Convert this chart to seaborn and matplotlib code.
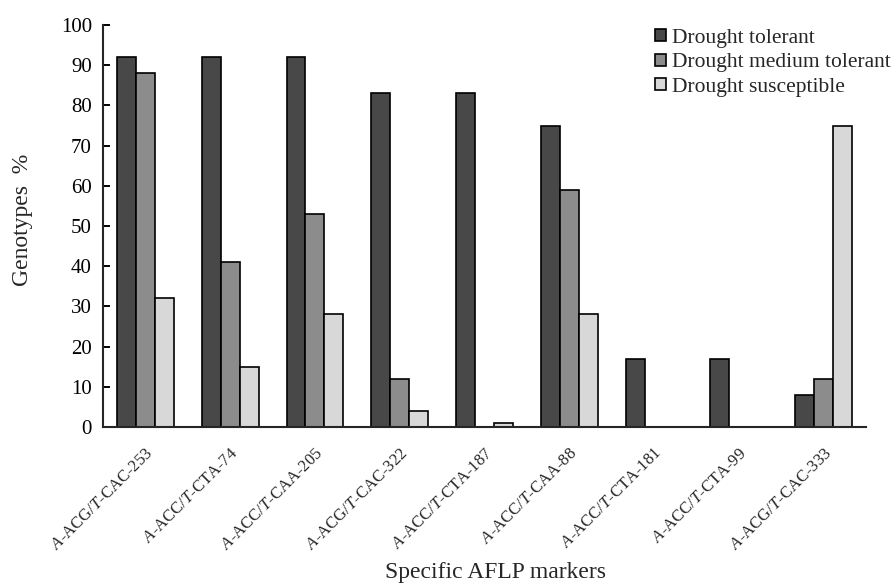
import numpy as np
import pandas as pd
import seaborn as sns
import matplotlib.pyplot as plt

markers = ['$\\it{A}$-ACG/$\\it{T}$-CAC-253', '$\\it{A}$-ACC/$\\it{T}$-CTA-74',
           '$\\it{A}$-ACC/$\\it{T}$-CAA-205', '$\\it{A}$-ACG/$\\it{T}$-CAC-322',
           '$\\it{A}$-ACC/$\\it{T}$-CTA-187', '$\\it{A}$-ACC/$\\it{T}$-CAA-88',
           '$\\it{A}$-ACC/$\\it{T}$-CTA-181', '$\\it{A}$-ACC/$\\it{T}$-CTA-99',
           '$\\it{A}$-ACG/$\\it{T}$-CAC-333']
groups = ['Drought tolerant', 'Drought medium tolerant', 'Drought susceptible']
tolerant = [92, 92, 92, 83, 83, 75, 17, 17, 8]
medium = [88, 41, 53, 12, 0, 59, 0, 0, 12]
susceptible = [32, 15, 28, 4, 1, 28, 0, 0, 75]
colors = ['#484848', '#8c8c8c', '#d8d8d8']

df = pd.DataFrame({'marker': markers * 3,
                   'group': np.repeat(groups, len(markers)),
                   'value': tolerant + medium + susceptible})

sns.set_style('ticks')
plt.rcParams['font.family'] = ['Liberation Serif', 'DejaVu Serif']
plt.rcParams['mathtext.fontset'] = 'custom'
plt.rcParams['mathtext.rm'] = 'Liberation Serif'
plt.rcParams['mathtext.it'] = 'Liberation Serif:italic'

fig = plt.figure(figsize=(8.93, 5.84), dpi=100)
ax = fig.add_axes([0.1153, 0.2688, 0.8545, 0.6884])

sns.barplot(data=df, x='marker', y='value', hue='group', palette=colors,
            width=0.67, edgecolor='black', linewidth=1.2, ax=ax)

ax.set_ylim(0, 100)
ax.set_yticks(range(0, 101, 10))
ax.set_xlim(-0.5, len(markers) - 0.5)
ax.tick_params(axis='y', labelsize=15, direction='in', length=5, width=1.4,
               colors='black', pad=8)
ax.tick_params(axis='x', length=0, labelsize=12, pad=13)
plt.setp(ax.get_xticklabels(), rotation=45, ha='right', rotation_mode='anchor')
sns.despine(ax=ax)
ax.spines['left'].set_linewidth(1.5)
ax.spines['bottom'].set_linewidth(1.5)

ax.set_ylabel('Genotypes  %', fontsize=17)
ax.yaxis.set_label_coords(-0.092, 0.515)
ax.set_xlabel('')
fig.text(0.555, 0.0205, 'Specific AFLP markers', fontsize=17, ha='center', va='center')

ax.get_legend().remove()
handles, labels = ax.get_legend_handles_labels()
fig.legend(handles, labels, loc='upper left', bbox_to_anchor=(655 / 893, 1 - 29 / 584),
           frameon=False, fontsize=15.5, borderpad=0, borderaxespad=0,
           handlelength=0.5, handleheight=0.5, handletextpad=0.3, labelspacing=0.25)

fig.savefig('out.png', dpi=100)
